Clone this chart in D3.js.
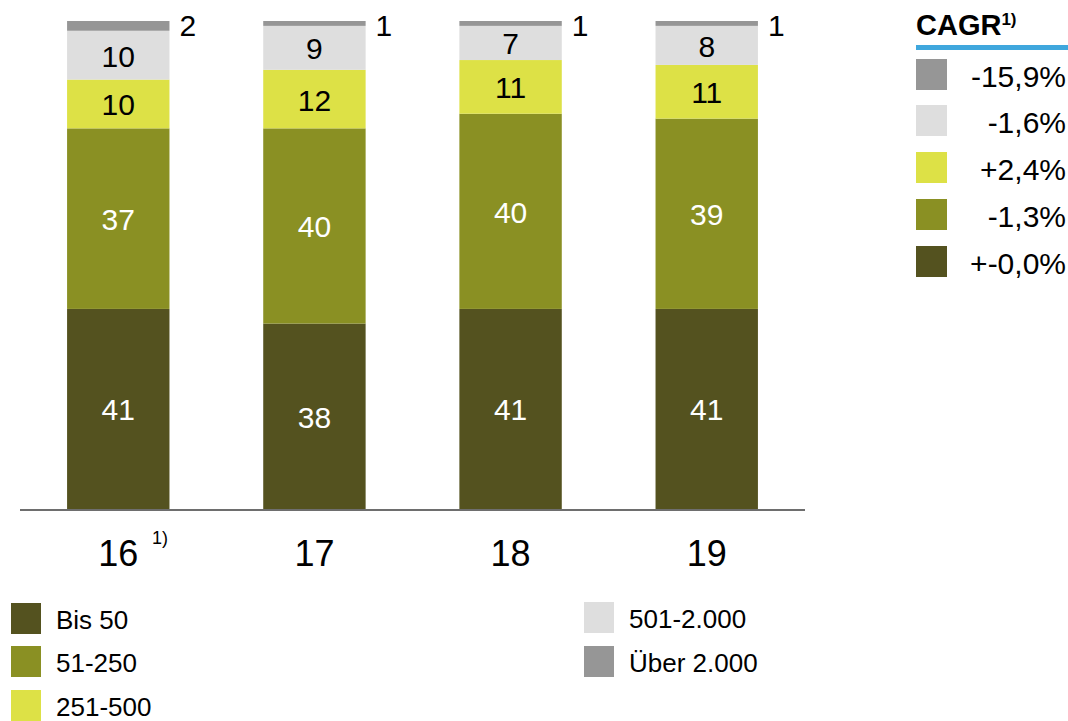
<!DOCTYPE html>
<html>
<head>
<meta charset="utf-8">
<script src="https://cdn.jsdelivr.net/npm/d3@7"></script>
<style>
  html, body { margin: 0; padding: 0; background: #fff; }
  svg { display: block; font-family: "Liberation Sans", Arial, sans-serif; }
</style>
</head>
<body>
<svg id="chart" width="1068" height="721"></svg>
<script>
// Years on the x axis
const years = ["16", "17", "18", "19"];
// Employee-size classes, bottom to top
const classes = ["Bis 50", "51-250", "251-500", "501-2.000", "Über 2.000"];
const colors = ["#54521f", "#8a9023", "#dde146", "#dedede", "#969696"];
// Share per class per year
const bis50    = [41, 38, 41, 41];
const c51_250  = [37, 40, 40, 39];
const c251_500 = [10, 12, 11, 11];
const c501_2000 = [10, 9, 7, 8];
const ueber2000 = [2, 1, 1, 1];
// CAGR per class, shown top to bottom
const cagrLabels = ["-15,9%", "-1,6%", "+2,4%", "-1,3%", "+-0,0%"];

const series = [bis50, c51_250, c251_500, c501_2000, ueber2000];
const rows = years.map((y, i) => {
  const r = { year: y };
  classes.forEach((c, k) => r[c] = series[k][i]);
  return r;
});
const stacked = d3.stack().keys(classes)(rows);

const svg = d3.select("#chart");
const x = d3.scaleBand().domain(years).range([20, 805]).paddingInner(0.478).paddingOuter(0.24);
const y = d3.scaleLinear().domain([0, 100]).range([509, 21]);

// Bars
const layers = svg.append("g").selectAll("g").data(stacked).join("g")
  .attr("fill", (d, i) => colors[i]);
layers.selectAll("rect").data(d => d).join("rect")
  .attr("x", d => x(d.data.year))
  .attr("width", x.bandwidth())
  .attr("y", d => y(d[1]))
  .attr("height", d => y(d[0]) - y(d[1]));

// Value labels
stacked.forEach((layer, k) => {
  layer.forEach(d => {
    const v = d[1] - d[0];
    const g = svg.append("text")
      .attr("font-size", 30)
      .attr("dominant-baseline", "central");
    if (k === 4) {
      g.attr("x", x(d.data.year) + x.bandwidth() + 10)
       .attr("y", y(d[1]) + 4)
       .attr("text-anchor", "start")
       .attr("fill", "#000");
    } else {
      g.attr("x", x(d.data.year) + x.bandwidth() / 2)
       .attr("y", (y(d[0]) + y(d[1])) / 2 + 1)
       .attr("text-anchor", "middle")
       .attr("fill", k < 2 ? "#fff" : "#000");
    }
    g.text(v);
  });
});

// Baseline
svg.append("line")
  .attr("x1", 20).attr("x2", 805)
  .attr("y1", 510).attr("y2", 510)
  .attr("stroke", "#6e6e6e").attr("stroke-width", 2);

// Category axis
const xAxis = svg.append("g").attr("transform", "translate(0,510)")
  .call(d3.axisBottom(x).tickSize(0).tickPadding(0));
xAxis.select(".domain").remove();
xAxis.selectAll("text")
  .attr("font-family", "Liberation Sans, Arial, sans-serif")
  .attr("font-size", 36).attr("fill", "#000")
  .attr("dy", null).attr("y", 56);
svg.append("text").attr("x", 152).attr("y", 544).attr("font-size", 18).text("1)");

// CAGR legend
svg.append("text").attr("x", 916).attr("y", 35)
  .attr("font-size", 29).attr("font-weight", "bold").text("CAGR")
  .append("tspan").attr("font-size", 17).attr("dy", -10).text("1)");
svg.append("rect").attr("x", 916).attr("y", 45).attr("width", 152).attr("height", 5).attr("fill", "#3fa7dd");
const cagrY = [59, 105, 152, 199, 246];
cagrLabels.forEach((lab, i) => {
  const col = colors[4 - i];
  svg.append("rect").attr("x", 916).attr("y", cagrY[i]).attr("width", 31).attr("height", 31)
    .attr("fill", col);
  svg.append("text").attr("x", 1066).attr("y", cagrY[i] + 17)
    .attr("text-anchor", "end").attr("dominant-baseline", "central")
    .attr("font-size", 30).text(lab);
});

// Class legend
const legPos = [[11, 603], [11, 646], [11, 690], [584, 602], [584, 646]];
classes.forEach((c, i) => {
  const [lx, ly] = legPos[i];
  svg.append("rect").attr("x", lx).attr("y", ly).attr("width", 30).attr("height", 31).attr("fill", colors[i]);
  svg.append("text").attr("x", lx + 45).attr("y", ly + 17)
    .attr("dominant-baseline", "central").attr("font-size", 26).text(c);
});
</script>
</body>
</html>
